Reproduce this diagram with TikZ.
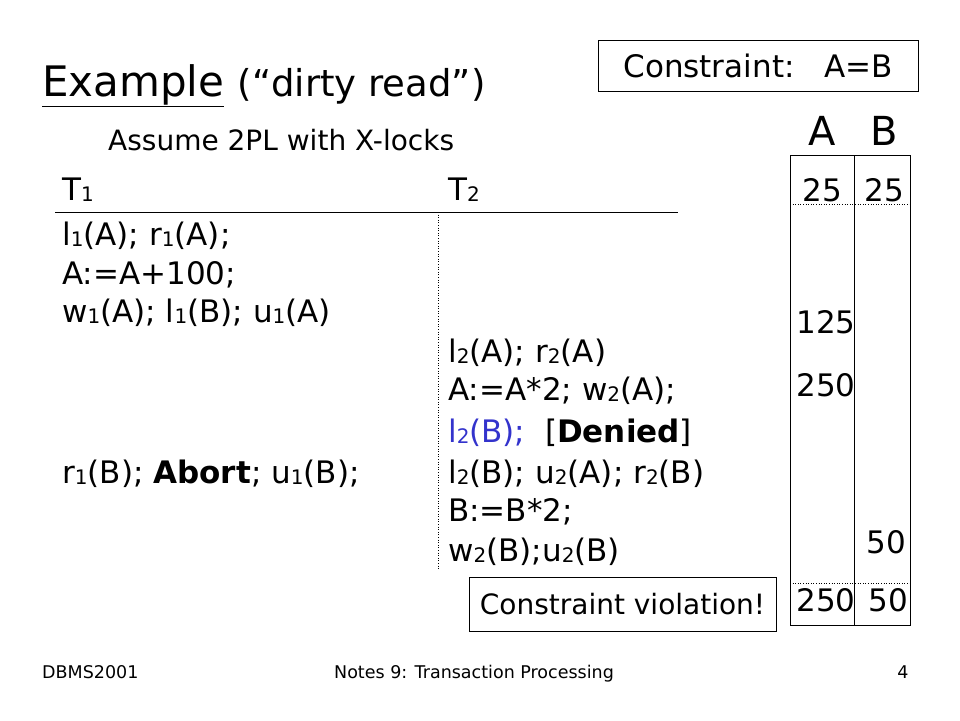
\documentclass[tikz,border=0pt]{standalone}
\usepackage{fontspec}
\setmainfont{DejaVu Sans}
\usetikzlibrary{positioning}
\definecolor{lockblue}{RGB}{51,51,204}
\newcommand{\ix}[1]{\raisebox{-0.1ex}{\fontsize{20}{20}\selectfont #1}}
\tikzset{
  txt/.style={anchor=base west, inner sep=0pt, font=\fontsize{31}{36}\selectfont},
  val/.style={anchor=base, inner sep=0pt, font=\fontsize{31}{36}\selectfont},
  foot/.style={anchor=base, inner sep=0pt, font=\fontsize{17.5}{20}\selectfont},
  box/.style={draw, line width=1pt, inner sep=0pt},
}
\begin{document}
\begin{tikzpicture}[x=1pt,y=-1pt]
  \useasboundingbox[fill=white] (0,0) rectangle (960,720);
  % title
  \node[txt, font=\fontsize{42}{48}\selectfont] (title) at (42,96) {\underline{Example} {\fontsize{37}{40}\selectfont(``dirty read'')}};
  \node[txt, font=\fontsize{28}{32}\selectfont] (assume) at (108,150) {Assume 2PL with X-locks};
  \node[box, minimum width=320, minimum height=51, font=\fontsize{31}{36}\selectfont] (constr) at (758,65.5) {Constraint:\ \ \ A=B};
  % schedule
  \node[txt] (t1) at (62,200) {T\ix{1}};
  \node[txt] (t2) at (448,200) {T\ix{2}};
  \coordinate (hl) at (55,212);
  \coordinate (hr) at (678,212);
  \draw[line width=1pt] (hl) -- (hr);
  \coordinate (vt) at (438,212);
  \coordinate (vb) at (438,570);
  \draw[dotted, line width=0.6pt] (vt) -- (vb);
  \node[txt] (a1) at (62,245) {l\ix{1}(A); r\ix{1}(A);};
  \node[txt] (a2) at (62,284) {A:=A+100;};
  \node[txt] (a3) at (62,322) {w\ix{1}(A); l\ix{1}(B); u\ix{1}(A)};
  \node[txt] (b1) at (448,362) {l\ix{2}(A); r\ix{2}(A)};
  \node[txt] (b2) at (448,400) {A:=A*2; w\ix{2}(A);};
  \node[txt] (b3) at (448,442) {\textcolor{lockblue}{l\ix{2}(B);}\ \ [\textbf{Denied}]};
  \node[txt] (a4) at (62,483) {r\ix{1}(B); \textbf{Abort}; u\ix{1}(B);};
  \node[txt] (b4) at (448,483) {l\ix{2}(B); u\ix{2}(A); r\ix{2}(B)};
  \node[txt] (b5) at (448,521) {B:=B*2;};
  \node[txt] (b6) at (448,561) {w\ix{2}(B);u\ix{2}(B)};
  \node[box, minimum width=307, minimum height=54, font=\fontsize{28}{32}\selectfont] (viol) at (622.5,604) {Constraint violation!};
  % database values
  \node[val, font=\fontsize{40}{44}\selectfont] (ca) at (822,145) {A};
  \node[val, font=\fontsize{40}{44}\selectfont] (cb) at (884,145) {B};
  \coordinate (dbtl) at (790,155);
  \coordinate (dbbr) at (910,625);
  \draw[line width=1pt] (dbtl) rectangle (dbbr);
  \coordinate (divt) at (854,155);
  \coordinate (divb) at (854,625);
  \draw[line width=1pt] (divt) -- (divb);
  \coordinate (s1l) at (790,204);
  \coordinate (s1r) at (910,204);
  \coordinate (s2l) at (790,583);
  \coordinate (s2r) at (910,583);
  \draw[dotted, line width=0.6pt] (s1l) -- (s1r) (s2l) -- (s2r);
  \node[val] (va1) at (822,201) {25};
  \node[val] (vb1) at (884,201) {25};
  \node[val] (va2) at (826,333) {125};
  \node[val] (va3) at (826,396) {250};
  \node[val] (vb2) at (886,553) {50};
  \node[val] (va4) at (826,611) {250};
  \node[val] (vb3) at (888,611) {50};
  % footer
  \node[foot, anchor=base west] (f1) at (42,678) {DBMS2001};
  \node[foot] (f2) at (474,678) {Notes 9: Transaction Processing};
  \node[foot] (f3) at (903,678) {4};
\end{tikzpicture}
\end{document}
